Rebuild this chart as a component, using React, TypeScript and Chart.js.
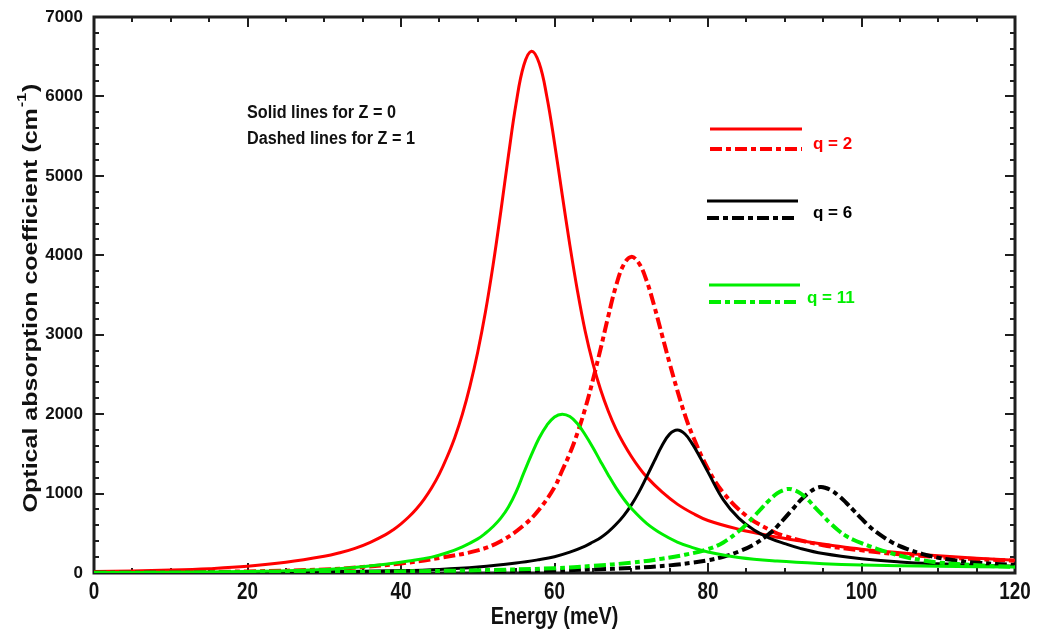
import React, { useEffect, useRef } from "react";
import { Chart, registerables } from "chart.js";

Chart.register(...registerables);

// ---- Data ----
const xTickLabels = [0, 20, 40, 60, 80, 100, 120];
const yTickLabels = [0, 1000, 2000, 3000, 4000, 5000, 6000, 7000];

// q = 2, Z = 0 (red solid)
const redSolidE = [0, 5, 10, 15, 20, 25, 30, 32, 34, 36, 38, 39, 40, 41, 42, 43, 44, 45, 46, 47, 48, 49, 50, 51, 52, 53, 54, 55, 56, 57, 58, 59, 60, 61, 62, 63, 64, 65, 66, 67, 68, 69, 70, 71, 72, 74, 76, 78, 80, 84, 88, 92, 96, 100, 105, 110, 115, 120];
const redSolidV = [18, 26, 37, 55, 84, 134, 210, 254, 310, 387, 483, 545, 619, 705, 806, 928, 1073, 1248, 1460, 1704, 2000, 2360, 2783, 3285, 3879, 4549, 5256, 5913, 6392, 6570, 6420, 6000, 5415, 4765, 4128, 3548, 3044, 2640, 2310, 2040, 1815, 1630, 1470, 1330, 1210, 1020, 867, 752, 661, 551, 470, 405, 350, 300, 255, 218, 187, 160];

// q = 2, Z = 1 (red dashed)
const redDashE = [0, 10, 20, 30, 35, 40, 45, 50, 53, 56, 58, 60, 61, 62, 63, 64, 65, 66, 67, 68, 69, 70, 71, 72, 73, 74, 75, 76, 77, 78, 80, 82, 85, 88, 90, 95, 100, 105, 110, 115, 120];
const redDashV = [5, 10, 20, 45, 75, 120, 190, 285, 400, 600, 800, 1080, 1290, 1505, 1765, 2070, 2430, 2820, 3230, 3610, 3880, 3980, 3900, 3680, 3360, 3000, 2640, 2300, 1990, 1730, 1310, 1010, 720, 545, 465, 350, 285, 235, 200, 175, 155];

// q = 6, Z = 0 (black solid)
const blackSolidE = [0, 10, 20, 30, 40, 45, 50, 55, 58, 60, 62, 64, 65, 66, 67, 68, 69, 70, 71, 72, 73, 74, 75, 76, 77, 78, 79, 80, 82, 84, 86, 88, 90, 92, 95, 100, 105, 110, 115, 120];
const blackSolidV = [3, 5, 8, 15, 30, 45, 75, 125, 168, 205, 262, 338, 390, 445, 518, 610, 720, 855, 1018, 1210, 1408, 1602, 1748, 1800, 1750, 1620, 1450, 1270, 920, 690, 540, 440, 370, 310, 245, 180, 140, 115, 98, 85];

// q = 6, Z = 1 (black dashed)
const blackDashE = [0, 20, 30, 40, 50, 60, 65, 70, 75, 78, 80, 82, 84, 86, 88, 89, 90, 91, 92, 93, 94, 94.6, 95, 96, 97, 98, 99, 100, 101, 102, 104, 106, 108, 110, 112, 115, 120];
const blackDashV = [2, 5, 8, 12, 18, 30, 45, 63, 96, 130, 160, 205, 270, 360, 495, 585, 690, 800, 910, 1000, 1065, 1083, 1080, 1045, 975, 885, 785, 685, 590, 510, 385, 300, 238, 192, 160, 130, 100];

// q = 11, Z = 0 (green solid)
const greenSolidE = [0, 10, 20, 30, 35, 38, 41, 44, 46, 48, 50, 51, 52, 53, 54, 55, 56, 57, 58, 59, 60, 61, 62, 63, 64, 65, 66, 67, 68, 69, 70, 72, 74, 76, 78, 80, 84, 89, 95, 100, 110, 120];
const greenSolidV = [5, 10, 20, 45, 80, 110, 150, 200, 255, 330, 430, 500, 585, 690, 830, 1020, 1260, 1490, 1700, 1860, 1965, 2000, 1970, 1880, 1740, 1580, 1405, 1235, 1075, 935, 815, 625, 490, 390, 320, 265, 195, 150, 118, 102, 85, 75];

// q = 11, Z = 1 (green dashed)
const greenDashE = [0, 20, 30, 40, 50, 60, 65, 70, 74, 77, 80, 82, 84, 85, 86, 87, 88, 89, 90, 90.5, 91, 92, 93, 94, 95, 96, 97, 98, 99, 100, 102, 104, 106, 108, 110, 115, 120];
const greenDashV = [3, 6, 10, 20, 35, 60, 90, 130, 180, 230, 300, 385, 525, 612, 712, 818, 918, 1002, 1050, 1058, 1052, 1005, 925, 820, 720, 620, 535, 465, 415, 375, 305, 245, 195, 160, 132, 98, 75];

const legendLabels = ["q = 2", "q = 6", "q = 11"];
const noteLines = ["Solid lines for Z = 0", "Dashed lines for Z = 1"];

// ---- Styling ----
const RED = "#ff0000";
const BLACK = "#000000";
const GREEN = "#00ee00";
const DASH = [12, 4, 5, 4];
const FONT = '"Liberation Sans", Arial, Helvetica, sans-serif';
const AXIS_COLOR = "#1e1e1e";

const pts = (e: number[], v: number[]) => e.map((x, i) => ({ x, y: v[i] }));

function text(ctx: CanvasRenderingContext2D, s: string, x: number, y: number, size: number, color: string, align: CanvasTextAlign, sx = 1) {
  ctx.save();
  ctx.font = `bold ${size}px ${FONT}`;
  ctx.fillStyle = color;
  ctx.textBaseline = "middle";
  ctx.textAlign = align;
  ctx.translate(x, y);
  ctx.scale(sx, 1);
  ctx.fillText(s, 0, 0);
  ctx.restore();
}

const framePlugin = {
  id: "frameTicks",
  beforeDatasetsDraw(chart: any) {
    const { ctx, chartArea, scales } = chart;
    const { left, right, top, bottom } = chartArea;
    const xs = scales.x;
    const ys = scales.y;
    ctx.save();
    ctx.strokeStyle = AXIS_COLOR;
    ctx.lineWidth = 2;
    ctx.beginPath();
    for (let v = 5; v < 120; v += 5) {
      const px = Math.round(xs.getPixelForValue(v));
      const len = v % 20 === 0 ? 10 : 5;
      ctx.moveTo(px, bottom);
      ctx.lineTo(px, bottom - len);
      ctx.moveTo(px, top);
      ctx.lineTo(px, top + len);
    }
    for (let v = 200; v < 7000; v += 200) {
      const py = Math.round(ys.getPixelForValue(v));
      const len = v % 1000 === 0 ? 10 : 5;
      ctx.moveTo(left, py);
      ctx.lineTo(left + len, py);
      ctx.moveTo(right, py);
      ctx.lineTo(right - len, py);
    }
    ctx.stroke();
    ctx.lineWidth = 3;
    ctx.strokeRect(left, top, right - left, bottom - top);
    ctx.restore();
  },
  afterDraw(chart: any) {
    const { ctx, chartArea, scales } = chart;
    const xs = scales.x;
    const ys = scales.y;
    // tick labels
    xTickLabels.forEach((v) => {
      text(ctx, String(v), xs.getPixelForValue(v), chartArea.bottom + 20, 23, "#111", "center", 0.82);
    });
    yTickLabels.forEach((v) => {
      text(ctx, String(v), chartArea.left - 11, ys.getPixelForValue(v), 17, "#111", "right", 1);
    });
    // x title
    text(ctx, "Energy (meV)", (chartArea.left + chartArea.right) / 2, 618, 23, "#111", "center", 0.86);

    // y title with superscript
    ctx.save();
    const size = 25;
    const main = "Optical absorption coefficient (cm";
    const sup = "-1";
    const tail = ")";
    ctx.translate(31, 298);
    ctx.rotate(-Math.PI / 2);
    ctx.scale(1, 0.8);
    ctx.fillStyle = "#111";
    ctx.textBaseline = "middle";
    ctx.textAlign = "left";
    ctx.font = `bold ${size}px ${FONT}`;
    const wMain = ctx.measureText(main).width;
    const wTail = ctx.measureText(tail).width;
    ctx.font = `bold ${Math.round(size * 0.62)}px ${FONT}`;
    const wSup = ctx.measureText(sup).width;
    const total = wMain + wSup + wTail + 2;
    let cx = -total / 2;
    ctx.font = `bold ${size}px ${FONT}`;
    ctx.fillText(main, cx, 0);
    cx += wMain + 1;
    ctx.font = `bold ${Math.round(size * 0.62)}px ${FONT}`;
    ctx.fillText(sup, cx, -size * 0.42);
    cx += wSup + 1;
    ctx.font = `bold ${size}px ${FONT}`;
    ctx.fillText(tail, cx, 0);
    ctx.restore();

    // notes
    text(ctx, noteLines[0], 247, 113, 18, "#111", "left", 0.9);
    text(ctx, noteLines[1], 247, 139, 18, "#111", "left", 0.9);

    // legend
    const rows = [
      { color: RED, ys: 129, yd: 149, x0: 710, x1: 802, lx: 813, ly: 144 },
      { color: BLACK, ys: 201, yd: 218, x0: 707, x1: 798, lx: 813, ly: 213 },
      { color: GREEN, ys: 285, yd: 302, x0: 709, x1: 800, lx: 807, ly: 298 },
    ];
    rows.forEach((r, i) => {
      ctx.save();
      ctx.strokeStyle = r.color;
      ctx.lineWidth = 3;
      ctx.beginPath();
      ctx.moveTo(r.x0, r.ys);
      ctx.lineTo(r.x1, r.ys);
      ctx.stroke();
      ctx.lineWidth = 4;
      ctx.setLineDash(DASH);
      ctx.beginPath();
      ctx.moveTo(r.x0, r.yd);
      ctx.lineTo(r.x1, r.yd);
      ctx.stroke();
      ctx.restore();
      text(ctx, legendLabels[i], r.lx, r.ly, 17, r.color, "left", 1);
    });
  },
};

export default function App() {
  const ref = useRef<HTMLCanvasElement | null>(null);
  useEffect(() => {
    if (!ref.current) return;
    const solid = (data: any, color: string) => ({
      data,
      borderColor: color,
      borderWidth: 3,
      pointRadius: 0,
      fill: false,
      tension: 0.4,
    });
    const dashed = (data: any, color: string) => ({
      ...solid(data, color),
      borderWidth: 4,
      borderDash: DASH,
    });
    const chart = new Chart(ref.current, {
      type: "line",
      data: {
        datasets: [
          dashed(pts(greenDashE, greenDashV), GREEN),
          solid(pts(greenSolidE, greenSolidV), GREEN),
          dashed(pts(blackDashE, blackDashV), BLACK),
          solid(pts(blackSolidE, blackSolidV), BLACK),
          dashed(pts(redDashE, redDashV), RED),
          solid(pts(redSolidE, redSolidV), RED),
        ] as any,
      },
      options: {
        animation: false,
        responsive: false,
        layout: { padding: { left: 94, right: 31, top: 17, bottom: 60 } },
        plugins: { legend: { display: false }, tooltip: { enabled: false } },
        scales: {
          x: { type: "linear", min: 0, max: 120, display: false },
          y: { type: "linear", min: 0, max: 7000, display: false },
        },
      },
      plugins: [framePlugin],
    });
    return () => chart.destroy();
  }, []);
  return (
    <div style={{ position: "fixed", left: 0, top: 0, width: 1046, height: 633, background: "#fff" }}>
      <canvas ref={ref} width={1046} height={633} style={{ display: "block" }} />
    </div>
  );
}
